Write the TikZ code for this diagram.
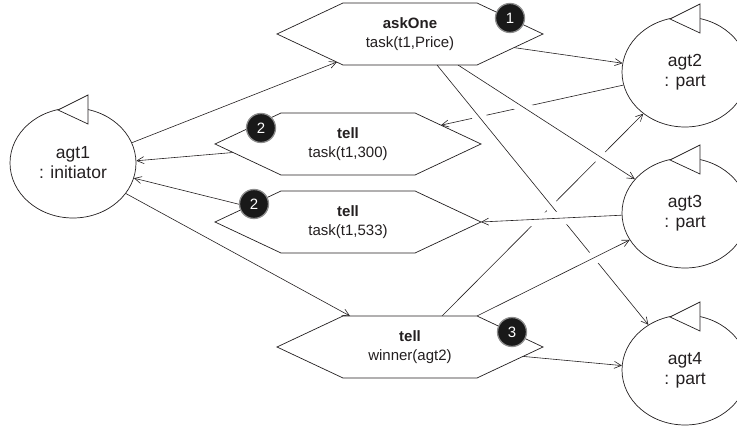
\documentclass[tikz,border=0pt]{standalone}
\usepackage{fontspec}
\setmainfont{Liberation Sans}
\usetikzlibrary{shapes.geometric,arrows.meta}
\pgfdeclarelayer{links}
\pgfsetlayers{links,main}
\definecolor{ink}{HTML}{231F20}

\tikzset{
  agent/.style={ellipse, draw=ink, line width=0.7pt, fill=white,
    minimum width=126pt, minimum height=110pt, inner sep=0pt,
    align=center, text=ink, font=\fontsize{17.5}{20}\selectfont},
  msgtext/.style={inner sep=0pt, align=center, text=ink,
    font=\fontsize{15}{19}\selectfont},
  hexline/.style={draw=ink, line width=0.7pt, fill=white, line join=miter},
  badge/.style={circle, fill=black!90, draw=black!45, line width=1.3pt,
    minimum size=29pt, inner sep=0pt, text=white,
    font=\fontsize{15}{15}\selectfont},
  link/.style={draw=ink, line width=0.6pt,
    -{Straight Barb[length=7pt,width=7pt]}},
  over/.style={preaction={draw=white, line width=13pt, arrows=-,
    shorten <=9pt, shorten >=9pt}},
}

% message box: elongated hexagon with a centred two-line label
\newcommand\msghex[4]{%
  \filldraw[hexline, shift={(#2,#3)}]
    (-67,-31) -- (67,-31) -- (133,0) -- (67,31) -- (-67,31) -- (-133,0) -- cycle;
  \node[msgtext] (#1) at (#2,#3) {#4};
}
% agent: ellipse with the small flag triangle on top
\newcommand\agentnode[4]{%
  \node[agent] (#1) at (#2,#3) {#4};
  \filldraw[hexline] ([shift={(15,-68)}]#1.center) -- ([shift={(15,-39)}]#1.center)
    -- ([shift={(-15,-53)}]#1.center) -- cycle;
}

\begin{document}
\begin{tikzpicture}[x=1pt,y=-1pt]
\useasboundingbox (0,0) rectangle (737,427);

% agents
\agentnode{agt1}{73}{163}{agt1\\: initiator}
\agentnode{agt2}{685}{72}{agt2\\: part}
\agentnode{agt3}{685}{213}{agt3\\: part}
\agentnode{agt4}{685}{370}{agt4\\: part}

% messages
\msghex{askOne}{410}{34}{\textbf{askOne}\\task(t1,Price)}
\msghex{tell300}{348}{144}{\textbf{tell}\\task(t1,300)}
\msghex{tell533}{348}{222}{\textbf{tell}\\task(t1,533)}
\msghex{winner}{410}{347}{\textbf{tell}\\winner(agt2)}

% step numbers
\node[badge] (b1) at (510,18) {1};
\node[badge] (b2a) at (261,128) {2};
\node[badge] (b2b) at (254,204) {2};
\node[badge] (b3) at (512,332) {3};

% connectors, kept beneath the boxes
\begin{pgfonlayer}{links}
\draw[link] (agt1.19) -- ([shift={(-73,28)}]askOne.center);
\draw[link] ([shift={(-115,8.5)}]tell300.center) -- (agt1.2);
\draw[link] ([shift={(-100,-15.5)}]tell533.center) -- (agt1.346);
\draw[link] (agt1.330) -- ([shift={(-60,-31)}]winner.center);
\draw[link] ([shift={(104,13.6)}]askOne.center) -- (agt2.172);
\draw[link] ([shift={(113,9.4)}]winner.center) -- (agt4.176);
% lines passing underneath
\draw[link] (agt2.192) -- ([shift={(93,-18.8)}]tell300.center);
\draw[link] ([shift={(32,-31)}]winner.center) -- (agt2.225);
% lines passing over, with a white gap around them
\draw[link,over] ([shift={(27,31)}]askOne.center) -- (agt4.129);
\draw[link,over] ([shift={(48,31)}]askOne.center) -- (agt3.146);
\draw[link,over] (agt3.182) -- ([shift={(133,0)}]tell533.center);
\draw[link,over] ([shift={(67,-31)}]winner.center) -- (agt3.206);
\end{pgfonlayer}
\end{tikzpicture}
\end{document}
